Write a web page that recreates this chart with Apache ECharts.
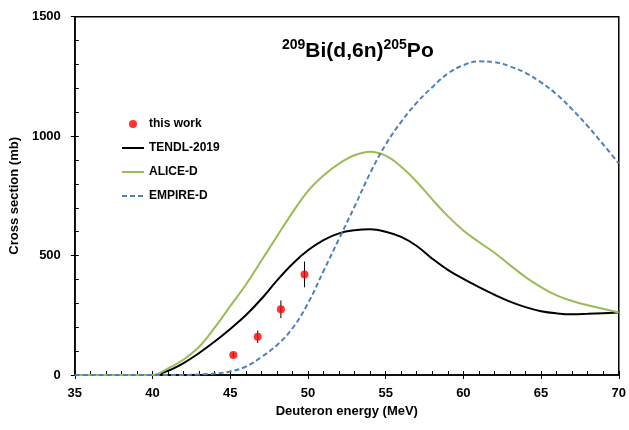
<!DOCTYPE html>
<html>
<head>
<meta charset="utf-8">
<script src="https://cdn.jsdelivr.net/npm/echarts@6/dist/echarts.min.js"></script>
<style>
  html, body { margin: 0; padding: 0; background: #fff; }
  #chart { width: 629px; height: 430px; }
</style>
</head>
<body>
<div id="chart"></div>
<script>
// energies (MeV) for the model curves
var energy = [35, 36, 37, 38, 39, 40, 41, 42, 43, 44, 45, 46, 47, 48, 49, 50, 51, 52,
  53, 54, 55, 56, 57, 58, 59, 60, 61, 62, 63, 64, 65, 66, 67, 68, 69, 70];
// cross sections (mb)
var tendl = [0, 0, 0, 0, 0, 0, 18, 50, 92, 140, 193, 250, 318, 395, 465, 522, 565, 593,
  606, 610, 600, 578, 540, 487, 440, 402, 368, 336, 307, 284, 267, 258, 254, 256, 259, 262];
var alice = [0, 0, 0, 0, 0, 0, 28, 65, 118, 198, 288, 378, 478, 580, 680, 770, 835, 885,
  920, 935, 918, 872, 809, 735, 665, 605, 557, 512, 460, 410, 368, 333, 310, 292, 277, 262];
var empire = [0, 0, 0, 0, 0, 0, 0, 0, 2, 6, 15, 35, 75, 125, 195, 300, 435, 570,
  705, 845, 965, 1060, 1140, 1205, 1262, 1297, 1313, 1310, 1292, 1265, 1225, 1175, 1112, 1042, 965, 886];
// measured points
var expE = [45.2, 46.77, 48.26, 49.78];
var expXS = [84, 160, 275, 421];
var expErr = [10, 26, 37, 54];

var xTicks = [35, 70, 5];
var yTicks = [0, 1500, 500];

function pairs(xs, ys) {
  var out = [];
  for (var i = 0; i < xs.length; i++) out.push([xs[i], ys[i]]);
  return out;
}

var font = 'Liberation Sans, Arial, sans-serif';
var chart = echarts.init(document.getElementById('chart'));

var errData = [];
for (var i = 0; i < expE.length; i++) {
  errData.push([expE[i], expXS[i] - expErr[i], expXS[i] + expErr[i]]);
}

var noDot = { opacity: 0 };

var option = {
  animation: false,
  backgroundColor: '#fff',
  title: {
    text: '{s|209}{b|Bi(d,6n)}{s|205}{b|Po}',
    left: 282,
    top: 38,
    padding: 0,
    textStyle: {
      rich: {
        b: { fontFamily: font, fontSize: 21, fontWeight: 'bold', color: '#000', lineHeight: 26 },
        s: { fontFamily: font, fontSize: 14, fontWeight: 'bold', color: '#000', lineHeight: 16, verticalAlign: 'top' }
      }
    }
  },
  legend: {
    orient: 'vertical',
    left: 121,
    top: 118,
    padding: 0,
    itemWidth: 22,
    itemHeight: 8,
    itemGap: 12,
    textStyle: { fontFamily: font, fontSize: 12, fontWeight: 'bold', color: '#000', lineHeight: 12 },
    data: [
      'this work',
      { name: 'TENDL-2019', itemStyle: noDot },
      { name: 'ALICE-D', itemStyle: noDot },
      { name: 'EMPIRE-D', itemStyle: noDot }
    ]
  },
  grid: {
    left: 70.5, right: 8.3, top: 16.7, bottom: 55,
    show: true, borderColor: '#000', borderWidth: 1.5
  },
  xAxis: [{
    type: 'value', min: xTicks[0], max: xTicks[1], interval: xTicks[2],
    name: 'Deuteron energy (MeV)', nameLocation: 'middle', nameGap: 28,
    nameTextStyle: { fontFamily: font, fontSize: 13, fontWeight: 'bold', color: '#000' },
    axisLine: { lineStyle: { color: '#000', width: 1.5 } },
    axisTick: { length: 4, lineStyle: { color: '#000' } },
    axisLabel: { fontFamily: font, fontSize: 13, fontWeight: 'bold', color: '#000', margin: 12 },
    splitLine: { show: false }
  }, {
    type: 'value', min: xTicks[0], max: xTicks[1], interval: 1, position: 'bottom',
    axisLine: { show: false },
    axisTick: { inside: true, length: 4, lineStyle: { color: '#000' } },
    axisLabel: { show: false },
    splitLine: { show: false }
  }],
  yAxis: [{
    type: 'value', min: yTicks[0], max: yTicks[1], interval: yTicks[2],
    name: 'Cross section (mb)', nameLocation: 'middle', nameGap: 41,
    nameTextStyle: { fontFamily: font, fontSize: 13, fontWeight: 'bold', color: '#000' },
    axisLine: { show: true, lineStyle: { color: '#000', width: 1.5 } },
    axisTick: { show: true, length: 4, lineStyle: { color: '#000' } },
    axisLabel: {
      fontFamily: font, fontSize: 13, fontWeight: 'bold', color: '#000', margin: 14,
      formatter: function (v) { return String(v); }
    },
    splitLine: { show: false }
  }, {
    type: 'value', min: yTicks[0], max: yTicks[1], interval: 100, position: 'left',
    axisLine: { show: false },
    axisTick: { show: true, inside: true, length: 4, lineStyle: { color: '#000' } },
    axisLabel: { show: false },
    splitLine: { show: false }
  }],
  series: [{
    name: 'TENDL-2019', type: 'line', smooth: 0.4, symbol: 'none',
    data: pairs(energy, tendl),
    lineStyle: { color: '#000', width: 2 }, itemStyle: { color: '#000' }
  }, {
    name: 'ALICE-D', type: 'line', smooth: 0.4, symbol: 'none',
    data: pairs(energy, alice),
    lineStyle: { color: '#9BBB59', width: 2 }, itemStyle: { color: '#9BBB59' }
  }, {
    name: 'EMPIRE-D', type: 'line', smooth: 0.4, symbol: 'none',
    data: pairs(energy, empire),
    lineStyle: { color: '#4F81BD', width: 2, type: [5, 3] }, itemStyle: { color: '#4F81BD' }
  }, {
    name: 'err', type: 'custom',
    data: errData,
    renderItem: function (params, api) {
      var lo = api.coord([api.value(0), api.value(1)]);
      var hi = api.coord([api.value(0), api.value(2)]);
      return {
        type: 'line',
        shape: { x1: lo[0], y1: lo[1], x2: hi[0], y2: hi[1] },
        style: { stroke: '#000', lineWidth: 1 }
      };
    },
    z: 3
  }, {
    name: 'this work', type: 'scatter', symbol: 'circle', symbolSize: 8,
    data: pairs(expE, expXS),
    itemStyle: { color: '#FF0000' }, z: 4
  }]
};

chart.setOption(option);
</script>
</body>
</html>
